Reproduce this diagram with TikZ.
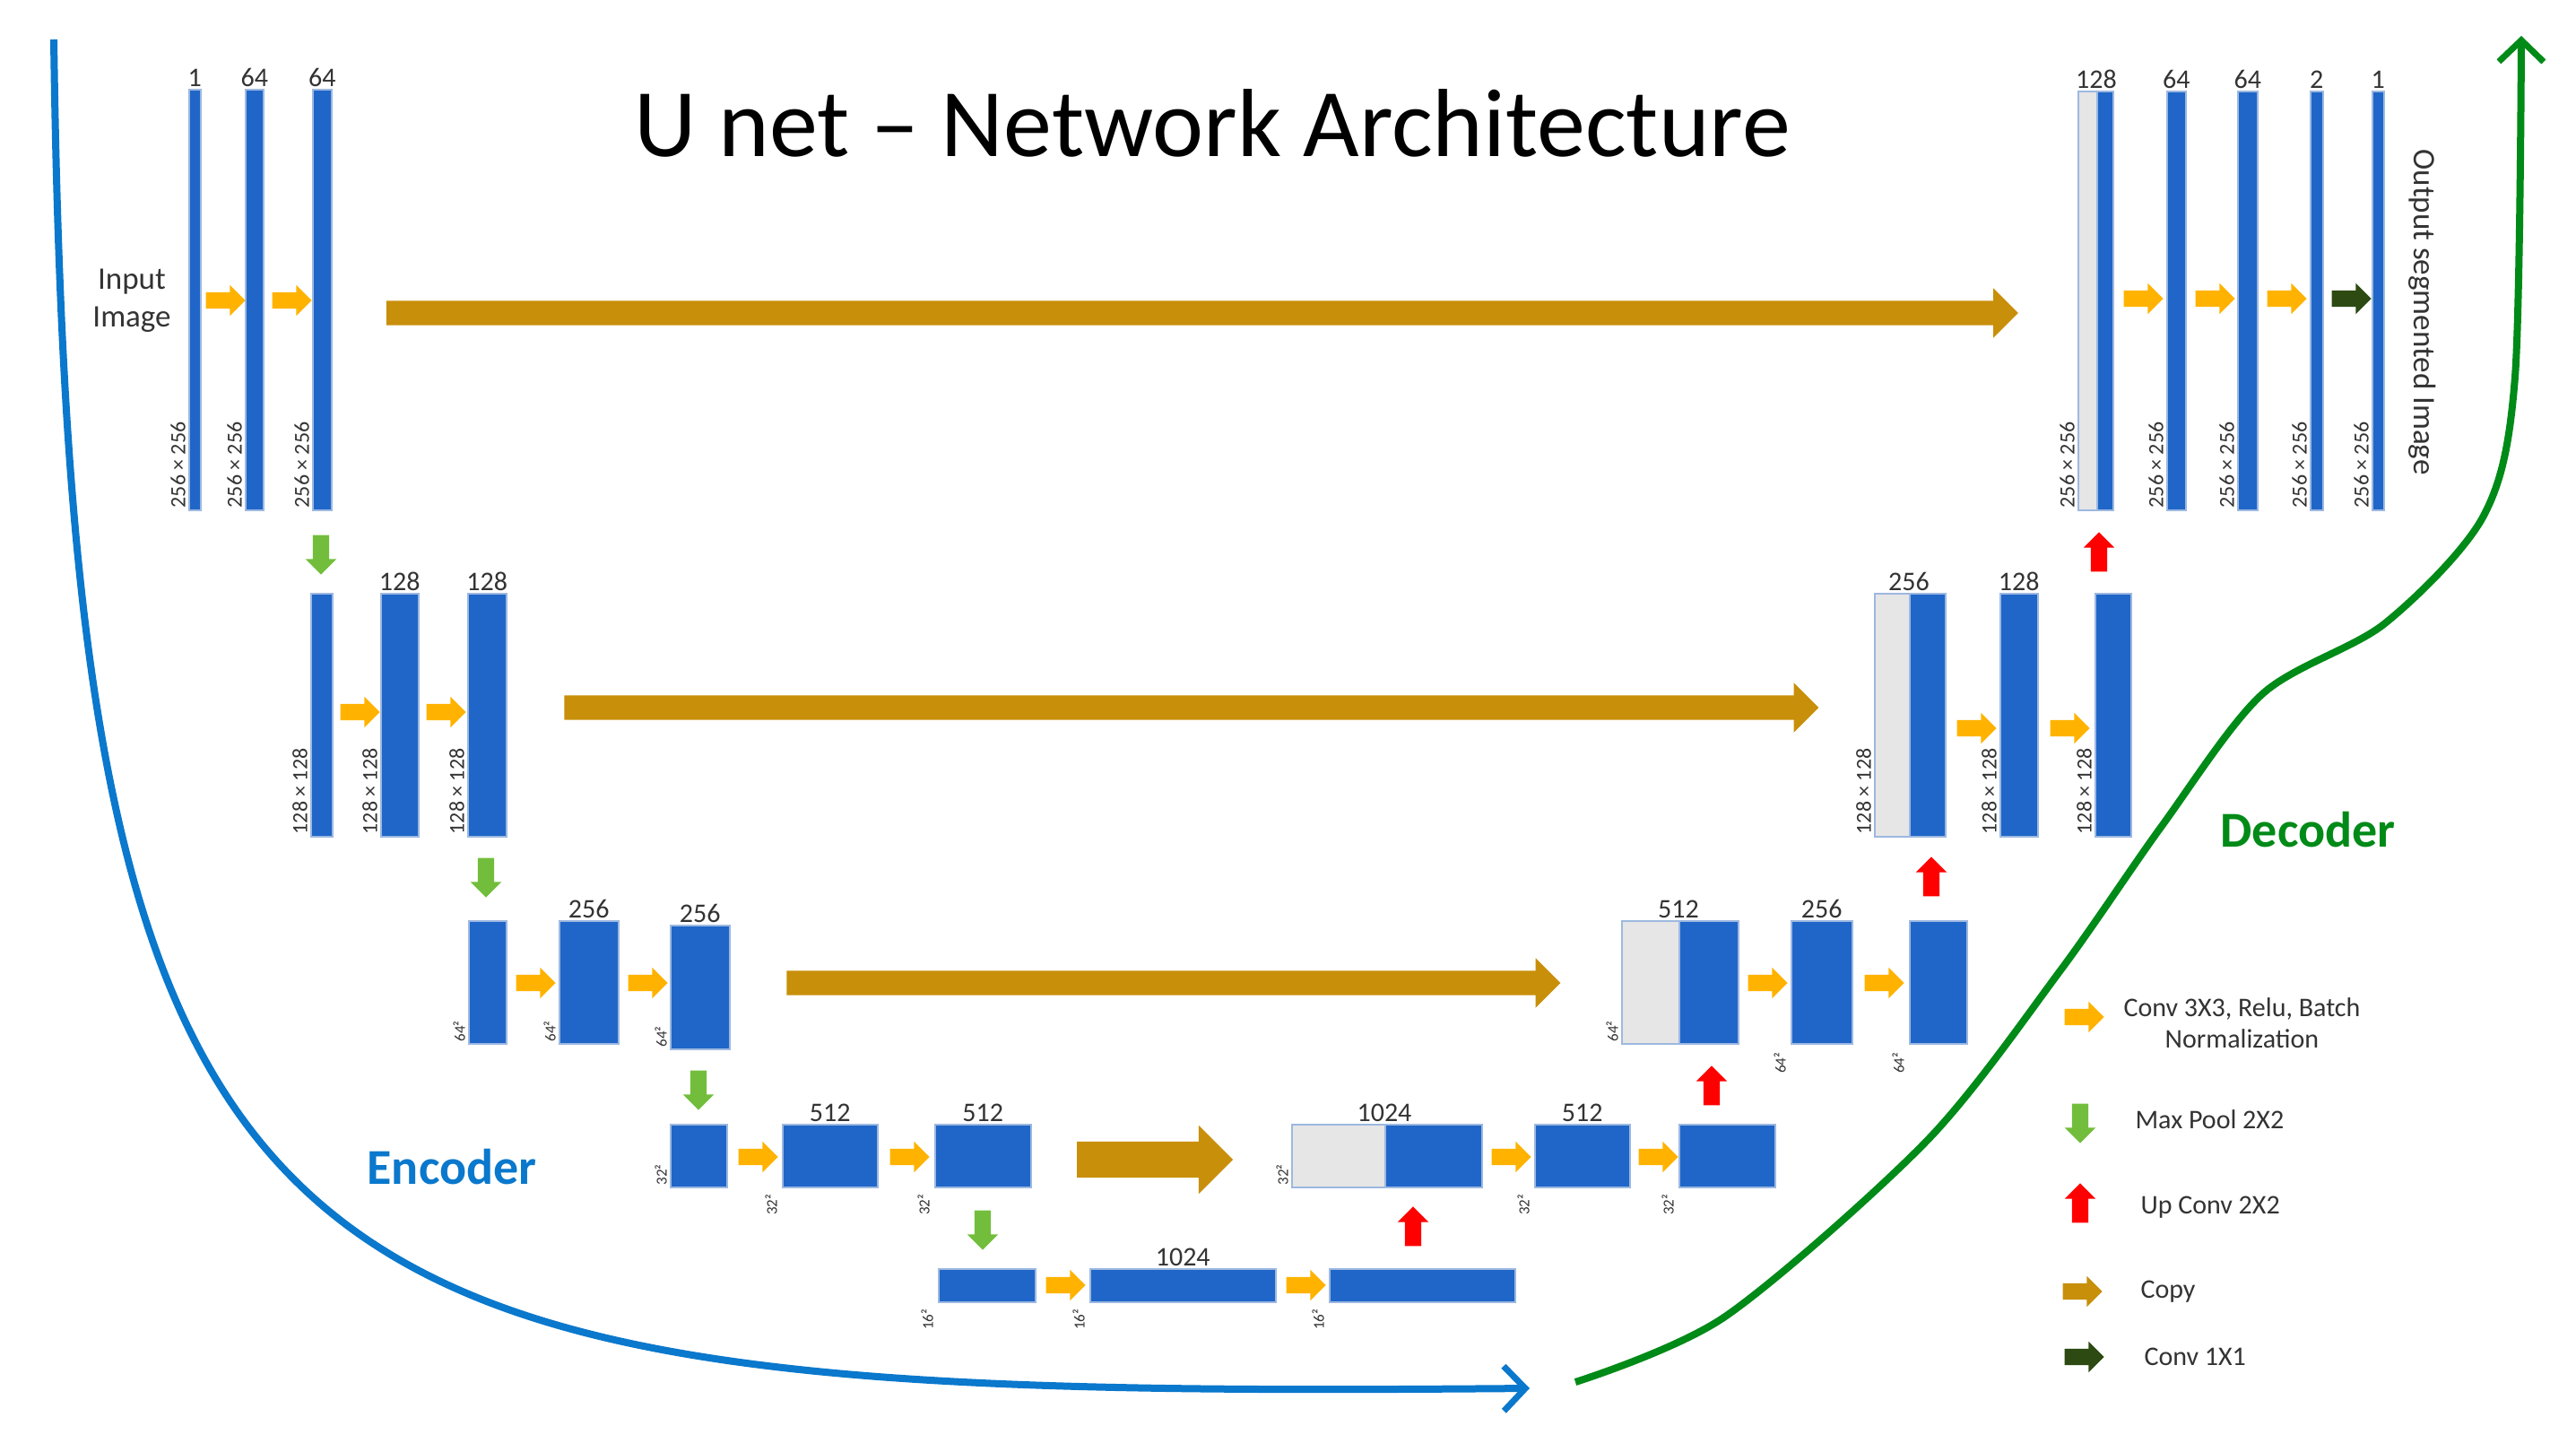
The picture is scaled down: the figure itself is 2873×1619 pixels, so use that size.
\documentclass[tikz,border=0pt]{standalone}
\usepackage{fontspec}
\setmainfont{Carlito}
\usetikzlibrary{shapes.arrows,arrows.meta}
\definecolor{barb}{HTML}{1F66C8}
\definecolor{barl}{HTML}{9DB8E0}
\definecolor{convc}{HTML}{FFB300}
\definecolor{copyc}{HTML}{C88F0A}
\definecolor{poolc}{HTML}{72BE3C}
\definecolor{upc}{HTML}{FF0000}
\definecolor{onec}{HTML}{2C4A12}
\definecolor{grayc}{HTML}{E6E6E6}
\definecolor{encc}{HTML}{0A78CC}
\definecolor{decc}{HTML}{008A17}
\definecolor{txt}{HTML}{333333}
\tikzset{
 bar/.style={draw=barl,line width=1.5pt,fill=barb,inner sep=0,anchor=north west},
 gbar/.style={draw=barl,line width=1.5pt,fill=grayc,inner sep=0,anchor=north west},
 arr/.style={single arrow,inner xsep=0pt,inner ysep=9pt,minimum height=44pt,single arrow head extend=8pt},
 conv/.style={arr,fill=convc},
 one/.style={arr,fill=onec},
 pool/.style={arr,fill=poolc,rotate=-90},
 up/.style={arr,fill=upc,rotate=90},
 copy/.style={single arrow,fill=copyc,inner xsep=0pt,inner ysep=13.5pt,single arrow head extend=14pt},
 ch/.style={font=\fontsize{30}{32}\selectfont,text=txt,anchor=south,inner sep=2pt},
 sz/.style={font=\fontsize{24}{26}\selectfont,text=txt,rotate=90,anchor=south west,inner sep=3pt},
 szs/.style={font=\fontsize{17}{18}\selectfont,text=txt,rotate=90,anchor=south west,inner sep=3pt},
 szb/.style={font=\fontsize{17}{18}\selectfont,text=txt,rotate=90,anchor=east,inner sep=3pt},
 leg/.style={font=\fontsize{30}{35}\selectfont,text=txt,anchor=west,align=center},
}
\begin{document}
\begin{tikzpicture}[x=1pt,y=-1pt]
\useasboundingbox (0,0) rectangle (2873,1619);
% title
\node[font=\fontsize{108}{112}\selectfont,text=black] (title) at (1352,137) {U net -- Network Architecture};
% curves
\coordinate (es) at (60,44); \coordinate (ee) at (1706,1548);
\draw[encc,line width=8pt,-{Straight Barb[length=24pt,width=50pt,line width=7pt]}] (es) .. controls (80,1500) and (300,1560) .. (ee);
\draw[decc,line width=8pt,-{Straight Barb[length=24pt,width=50pt,line width=7pt]}] plot[smooth,tension=0.5] coordinates {(1757,1541) (1924,1468) (2149,1272) (2298,1082) (2411,921) (2523,774) (2660,695) (2770,575) (2805,420) (2812,40)};
\node[font=\bfseries\fontsize{56}{60}\selectfont,text=encc] (enc) at (504,1301) {Encoder};
\node[font=\bfseries\fontsize{56}{60}\selectfont,text=decc] (dec) at (2574,925) {Decoder};
% ---- row 1 encoder
\node[bar,minimum width=13pt,minimum height=469pt] (a1) at (210,99) {};
\node[bar,minimum width=20pt,minimum height=469pt] (a2) at (273,99) {};
\node[bar,minimum width=21pt,minimum height=469pt] (a3) at (348,99) {};
\node[ch] at (a1.north) {1}; \node[ch] at (a2.north) {64}; \node[ch] at (a3.north) {64};
\node[sz] at (a1.south west) {256 × 256};
\node[sz] at (a2.south west) {256 × 256};
\node[sz] at (a3.south west) {256 × 256};
\node[font=\fontsize{35}{42}\selectfont,text=txt,align=center] (inp) at (147,335) {Input\\Image};
\node[conv] (c11) at (247,335) {}; \node[conv] (c12) at (321,335) {};
\node[pool] (p1) at (358,614) {};
% ---- row 2 encoder
\node[bar,minimum width=24pt,minimum height=271pt] (b1) at (346,661) {};
\node[bar,minimum width=42pt,minimum height=271pt] (b2) at (424,661) {};
\node[bar,minimum width=43pt,minimum height=271pt] (b3) at (521,661) {};
\node[ch] at (b2.north) {128}; \node[ch] at (b3.north) {128};
\node[sz] at (b1.south west) {128 × 128};
\node[sz] at (b2.south west) {128 × 128};
\node[sz] at (b3.south west) {128 × 128};
\node[conv] (c21) at (397,794) {}; \node[conv] (c22) at (493,794) {};
\node[pool] (p2) at (542,974) {};
% ---- row 3 encoder
\node[bar,minimum width=42pt,minimum height=137pt] (d1) at (522,1026) {};
\node[bar,minimum width=66pt,minimum height=137pt] (d2) at (623,1026) {};
\node[bar,minimum width=66pt,minimum height=138pt] (d3) at (747,1031) {};
\node[ch] at (d2.north) {256}; \node[ch] at (d3.north) {256};
\node[szs] at (d1.south west) {64²}; \node[szs] at (d2.south west) {64²}; \node[szs] at (d3.south west) {64²};
\node[conv] (c31) at (593,1096) {}; \node[conv] (c32) at (718,1096) {};
\node[pool] (p3) at (779,1211) {};
% ---- row 4 encoder
\node[bar,minimum width=63pt,minimum height=70pt] (e1) at (747,1253) {};
\node[bar,minimum width=106pt,minimum height=70pt] (e2) at (872,1253) {};
\node[bar,minimum width=107pt,minimum height=70pt] (e3) at (1042,1253) {};
\node[ch] at (e2.north) {512}; \node[ch] at (e3.north) {512};
\node[szs] at (e1.south west) {32²};
\node[szb] at ([xshift=-12pt,yshift=-4pt]e2.south west) {32²};
\node[szb] at ([xshift=-12pt,yshift=-4pt]e3.south west) {32²};
\node[conv] (c41) at (841,1290) {}; \node[conv] (c42) at (1010,1290) {};
\node[pool] (p4) at (1096,1367) {};
% ---- row 5 bottom
\node[bar,minimum width=108pt,minimum height=37pt] (f1) at (1046,1414) {};
\node[bar,minimum width=207pt,minimum height=37pt] (f2) at (1215,1414) {};
\node[bar,minimum width=207pt,minimum height=37pt] (f3) at (1482,1414) {};
\node[ch] at (f2.north) {1024};
\node[szb] at ([xshift=-12pt,yshift=-4pt]f1.south west) {16²};
\node[szb] at ([xshift=-12pt,yshift=-4pt]f2.south west) {16²};
\node[szb] at ([xshift=-12pt,yshift=-4pt]f3.south west) {16²};
\node[conv] (c51) at (1184,1433) {}; \node[conv] (c52) at (1452,1433) {};
\node[up] (u1) at (1576,1372) {};
% ---- row 4 decoder
\node[gbar,minimum width=104pt,minimum height=70pt] (g1g) at (1440,1253) {};
\node[bar,minimum width=108pt,minimum height=70pt] (g1) at (1544,1253) {};
\node[bar,minimum width=106pt,minimum height=70pt] (g2) at (1711,1253) {};
\node[bar,minimum width=107pt,minimum height=70pt] (g3) at (1872,1253) {};
\node[ch] at (g1.north west) {1024}; \node[ch] at (g2.north) {512};
\node[szs] at (g1g.south west) {32²};
\node[szb] at ([xshift=-12pt,yshift=-4pt]g2.south west) {32²};
\node[szb] at ([xshift=-12pt,yshift=-4pt]g3.south west) {32²};
\node[conv] (c61) at (1681,1290) {}; \node[conv] (c62) at (1845,1290) {};
\node[up] (u2) at (1909,1215) {};
% ---- row 3 decoder
\node[gbar,minimum width=64pt,minimum height=137pt] (h1g) at (1808,1026) {};
\node[bar,minimum width=66pt,minimum height=137pt] (h1) at (1872,1026) {};
\node[bar,minimum width=68pt,minimum height=137pt] (h2) at (1997,1026) {};
\node[bar,minimum width=64pt,minimum height=137pt] (h3) at (2129,1026) {};
\node[ch] at (h1.north west) {512}; \node[ch] at (h2.north) {256};
\node[szs] at (h1g.south west) {64²};
\node[szb] at ([xshift=-12pt,yshift=-6pt]h2.south west) {64²};
\node[szb] at ([xshift=-12pt,yshift=-6pt]h3.south west) {64²};
\node[conv] (c71) at (1967,1096) {}; \node[conv] (c72) at (2097,1096) {};
\node[up] (u3) at (2154,982) {};
% ---- row 2 decoder
\node[gbar,minimum width=39pt,minimum height=271pt] (k1g) at (2090,661) {};
\node[bar,minimum width=40pt,minimum height=271pt] (k1) at (2129,661) {};
\node[bar,minimum width=42pt,minimum height=271pt] (k2) at (2230,661) {};
\node[bar,minimum width=40pt,minimum height=271pt] (k3) at (2336,661) {};
\node[ch] at (k1.north west) {256}; \node[ch] at (k2.north) {128};
\node[sz] at (k1g.south west) {128 × 128};
\node[sz] at (k2.south west) {128 × 128};
\node[sz] at (k3.south west) {128 × 128};
\node[conv] (c81) at (2200,812) {}; \node[conv] (c82) at (2304,812) {};
\node[up] (u4) at (2341,620) {};
% ---- row 1 decoder
\node[gbar,minimum width=21pt,minimum height=467pt] (m1g) at (2317,101) {};
\node[bar,minimum width=18pt,minimum height=467pt] (m1) at (2338,101) {};
\node[bar,minimum width=21pt,minimum height=467pt] (m2) at (2416,101) {};
\node[bar,minimum width=22pt,minimum height=467pt] (m3) at (2495,101) {};
\node[bar,minimum width=14pt,minimum height=467pt] (m4) at (2576,101) {};
\node[bar,minimum width=13pt,minimum height=467pt] (m5) at (2645,101) {};
\node[ch] at (m1.north west) {128}; \node[ch] at (m2.north) {64}; \node[ch] at (m3.north) {64};
\node[ch] at (m4.north) {2}; \node[ch] at (m5.north) {1};
\node[sz] at (m1g.south west) {256 × 256};
\node[sz] at (m2.south west) {256 × 256};
\node[sz] at (m3.south west) {256 × 256};
\node[sz] at (m4.south west) {256 × 256};
\node[sz] at (m5.south west) {256 × 256};
\node[conv] (c91) at (2386,333) {}; \node[conv] (c92) at (2466,333) {}; \node[conv] (c93) at (2546,333) {};
\node[one] (o1) at (2618,333) {};
\node[font=\fontsize{35}{40}\selectfont,text=txt,rotate=-90] (out) at (2702,348) {Output segmented Image};
% ---- copy arrows
\node[copy,minimum height=1820pt] (cp1) at (1334,349) {};
\node[copy,minimum height=1399pt] (cp2) at (1322,789) {};
\node[copy,minimum height=863pt] (cp3) at (1302,1096) {};
\node[copy,inner ysep=20pt,single arrow head extend=18pt,minimum height=174pt] (cp4) at (1278,1293) {};
% ---- legend
\node[conv] (l1) at (2320,1134) {};
\node[leg] (t1) at (2365,1141) {Conv 3X3, Relu, Batch\\Normalization};
\node[pool] (l2) at (2320,1248) {};
\node[leg] (t2) at (2378,1248) {Max Pool 2X2};
\node[up] (l3) at (2320,1346) {};
\node[leg] (t3) at (2384,1346) {Up Conv 2X2};
\node[arr,fill=copyc] (l4) at (2318,1440) {};
\node[leg] (t4) at (2384,1440) {Copy};
\node[one] (l5) at (2320,1513) {};
\node[leg] (t5) at (2388,1513) {Conv 1X1};
\end{tikzpicture}
\end{document}
